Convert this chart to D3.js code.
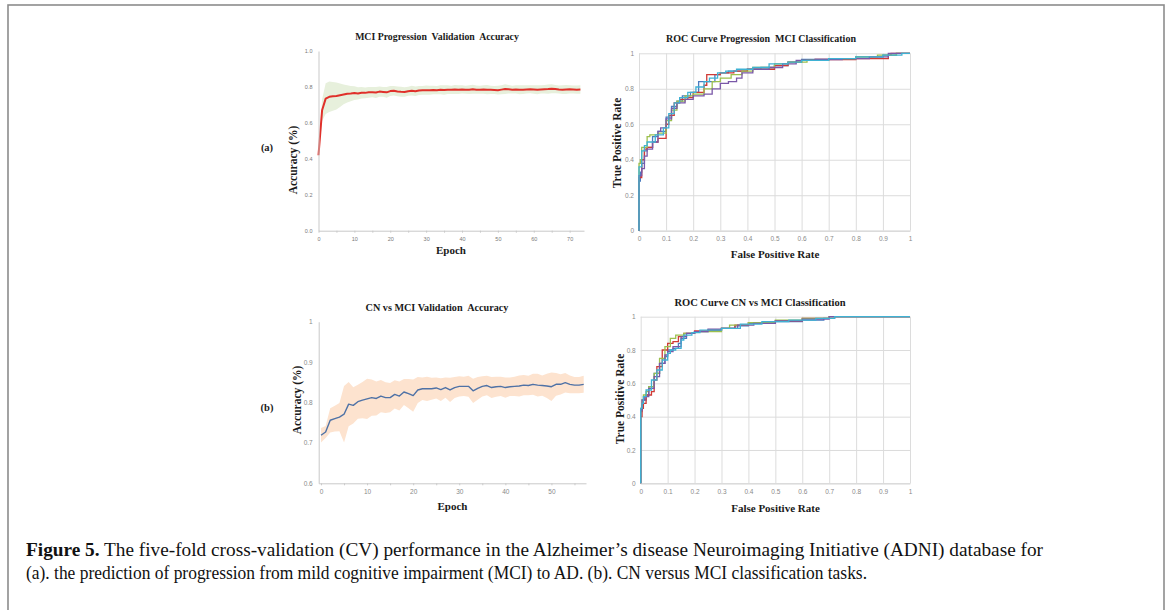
<!DOCTYPE html>
<html>
<head>
<meta charset="utf-8">
<script src="https://cdn.jsdelivr.net/npm/d3@7"></script>
<style>
  body { margin: 0; background: #fff; }
  svg { display: block; }
</style>
</head>
<body>
<svg id="fig" width="1170" height="610"></svg>
<script>
// (a) MCI progression validation accuracy, epochs 0..73
const meanA = [
  0.42, 0.67, 0.735, 0.745, 0.748, 0.750, 0.754, 0.758, 0.762, 0.763,
  0.766, 0.764, 0.768, 0.767, 0.770, 0.771, 0.769, 0.774, 0.772, 0.770,
  0.777, 0.779, 0.775, 0.773, 0.772, 0.776, 0.779, 0.776, 0.780, 0.781,
  0.782, 0.781, 0.783, 0.782, 0.784, 0.783, 0.785, 0.784, 0.786, 0.785,
  0.786, 0.784, 0.785, 0.787, 0.785, 0.784, 0.786, 0.785, 0.784, 0.783,
  0.782, 0.785, 0.788, 0.787, 0.785, 0.786, 0.784, 0.785, 0.786, 0.787,
  0.786, 0.785, 0.786, 0.787, 0.788, 0.790, 0.788, 0.786, 0.785, 0.786,
  0.787, 0.786, 0.785, 0.786
];
const stdA = [
  0.008, 0.06, 0.085, 0.085, 0.08, 0.075, 0.065, 0.055, 0.048, 0.042,
  0.038, 0.034, 0.032, 0.030, 0.030, 0.028, 0.030, 0.028, 0.027, 0.030,
  0.028, 0.026, 0.027, 0.028, 0.026, 0.025, 0.027, 0.026, 0.025, 0.024,
  0.026, 0.025, 0.024, 0.023, 0.025, 0.027, 0.024, 0.023, 0.025, 0.024,
  0.023, 0.022, 0.024, 0.025, 0.023, 0.022, 0.024, 0.026, 0.023, 0.022,
  0.024, 0.025, 0.027, 0.024, 0.022, 0.023, 0.025, 0.024, 0.023, 0.022,
  0.024, 0.025, 0.023, 0.024, 0.026, 0.025, 0.023, 0.022, 0.024, 0.025,
  0.023, 0.022, 0.023, 0.024
];

// (b) CN vs MCI validation accuracy, epochs 0..57
const meanB = [
  0.719, 0.727, 0.756, 0.760, 0.764, 0.771, 0.796, 0.793, 0.802, 0.806,
  0.809, 0.812, 0.810, 0.816, 0.812, 0.812, 0.820, 0.816, 0.826, 0.822,
  0.817, 0.831, 0.834, 0.834, 0.834, 0.836, 0.832, 0.837, 0.831, 0.837,
  0.840, 0.840, 0.840, 0.829, 0.835, 0.840, 0.842, 0.837, 0.839, 0.840,
  0.837, 0.839, 0.840, 0.841, 0.843, 0.842, 0.845, 0.843, 0.842, 0.841,
  0.839, 0.845, 0.845, 0.849, 0.845, 0.843, 0.843, 0.845
];
const stdB = [
  0.018, 0.015, 0.03, 0.032, 0.035, 0.07, 0.055, 0.045, 0.042, 0.045,
  0.05, 0.045, 0.042, 0.04, 0.038, 0.036, 0.035, 0.036, 0.032, 0.036,
  0.04, 0.032, 0.028, 0.03, 0.027, 0.026, 0.028, 0.025, 0.03, 0.026,
  0.025, 0.024, 0.026, 0.03, 0.028, 0.025, 0.024, 0.026, 0.025, 0.024,
  0.025, 0.023, 0.024, 0.026, 0.025, 0.024, 0.026, 0.028, 0.025, 0.03,
  0.035, 0.028, 0.025, 0.024, 0.022, 0.02, 0.02, 0.021
];

// ROC folds, [fpr, tpr]
const foldColors = ['#4a7cc0', '#d03a36', '#9cc04e', '#7a58a8', '#3fb2d4'];

const rocProgression = [
  [[0,0],[0,0.21],[0.005,0.28],[0.01,0.33],[0.02,0.38],[0.03,0.45],[0.05,0.47],[0.07,0.53],[0.1,0.56],[0.12,0.64],[0.14,0.7],[0.16,0.73],[0.19,0.76],[0.22,0.78],[0.25,0.84],[0.28,0.84],[0.3,0.88],[0.33,0.89],[0.4,0.9],[0.45,0.91],[0.5,0.92],[0.55,0.93],[0.6,0.95],[0.7,0.965],[0.8,0.97],[0.9,0.98],[0.95,0.99],[1,1]],
  [[0,0],[0,0.2],[0.01,0.3],[0.02,0.4],[0.03,0.46],[0.05,0.47],[0.07,0.5],[0.1,0.52],[0.11,0.6],[0.13,0.65],[0.15,0.72],[0.18,0.74],[0.2,0.75],[0.24,0.78],[0.25,0.82],[0.26,0.88],[0.3,0.88],[0.35,0.89],[0.4,0.9],[0.5,0.91],[0.55,0.93],[0.6,0.95],[0.65,0.96],[0.8,0.965],[0.92,0.97],[0.93,0.99],[1,1]],
  [[0,0],[0,0.25],[0.005,0.38],[0.01,0.4],[0.03,0.47],[0.04,0.53],[0.07,0.54],[0.1,0.55],[0.12,0.62],[0.14,0.68],[0.17,0.73],[0.2,0.76],[0.24,0.77],[0.27,0.8],[0.3,0.84],[0.34,0.86],[0.38,0.88],[0.42,0.9],[0.5,0.92],[0.55,0.94],[0.62,0.95],[0.7,0.96],[0.8,0.97],[0.88,0.98],[0.95,0.99],[1,1]],
  [[0,0],[0,0.2],[0.01,0.31],[0.02,0.35],[0.03,0.42],[0.05,0.46],[0.07,0.5],[0.08,0.56],[0.1,0.58],[0.12,0.63],[0.14,0.69],[0.17,0.72],[0.2,0.74],[0.24,0.76],[0.27,0.77],[0.3,0.8],[0.33,0.83],[0.36,0.84],[0.38,0.86],[0.42,0.89],[0.48,0.91],[0.53,0.92],[0.58,0.94],[0.65,0.96],[0.75,0.965],[0.85,0.97],[0.92,0.98],[1,1]],
  [[0,0],[0,0.22],[0.01,0.36],[0.02,0.45],[0.03,0.48],[0.06,0.5],[0.09,0.54],[0.11,0.58],[0.13,0.66],[0.15,0.72],[0.18,0.75],[0.21,0.78],[0.24,0.81],[0.26,0.84],[0.29,0.86],[0.32,0.89],[0.36,0.9],[0.42,0.91],[0.48,0.92],[0.55,0.94],[0.6,0.95],[0.7,0.96],[0.8,0.97],[0.9,0.98],[0.97,0.99],[1,1]]
];

const rocCnMci = [
  [[0,0],[0,0.35],[0.005,0.43],[0.01,0.47],[0.02,0.5],[0.03,0.53],[0.05,0.58],[0.07,0.66],[0.09,0.72],[0.1,0.76],[0.12,0.8],[0.14,0.81],[0.15,0.84],[0.17,0.87],[0.2,0.9],[0.25,0.91],[0.3,0.92],[0.35,0.93],[0.4,0.945],[0.5,0.96],[0.6,0.97],[0.68,0.98],[0.72,0.99],[0.78,1],[1,1]],
  [[0,0],[0,0.26],[0.005,0.4],[0.01,0.45],[0.02,0.48],[0.04,0.53],[0.05,0.55],[0.06,0.62],[0.08,0.7],[0.1,0.8],[0.12,0.84],[0.14,0.85],[0.16,0.88],[0.2,0.9],[0.25,0.915],[0.3,0.92],[0.35,0.93],[0.4,0.95],[0.5,0.965],[0.6,0.975],[0.7,0.99],[0.76,1],[1,1]],
  [[0,0],[0,0.3],[0.005,0.45],[0.01,0.5],[0.02,0.53],[0.03,0.55],[0.05,0.58],[0.07,0.66],[0.09,0.75],[0.11,0.82],[0.13,0.87],[0.16,0.89],[0.2,0.9],[0.25,0.91],[0.3,0.91],[0.33,0.93],[0.4,0.95],[0.5,0.965],[0.6,0.98],[0.7,0.99],[0.75,1],[1,1]],
  [[0,0],[0,0.38],[0.005,0.44],[0.015,0.5],[0.03,0.52],[0.05,0.57],[0.07,0.64],[0.09,0.72],[0.1,0.77],[0.12,0.79],[0.15,0.82],[0.17,0.88],[0.2,0.9],[0.25,0.91],[0.3,0.925],[0.36,0.93],[0.42,0.95],[0.5,0.96],[0.6,0.975],[0.7,0.985],[0.77,1],[1,1]],
  [[0,0],[0,0.34],[0.005,0.45],[0.01,0.48],[0.02,0.52],[0.04,0.56],[0.06,0.62],[0.08,0.68],[0.1,0.74],[0.11,0.78],[0.13,0.8],[0.15,0.81],[0.16,0.86],[0.19,0.89],[0.22,0.905],[0.3,0.92],[0.37,0.93],[0.45,0.955],[0.55,0.97],[0.65,0.98],[0.72,0.99],[0.78,1],[1,1]]
];

const rocTicksX = d3.range(0, 11).map(i => i / 10);
const rocTicksY = [0, 0.2, 0.4, 0.6, 0.8, 1];

const captionLines = [
  ['Figure 5.', ' The five-fold cross-validation (CV) performance in the Alzheimer\u2019s disease Neuroimaging Initiative (ADNI) database for'],
  ['', '(a). the prediction of progression from mild cognitive impairment (MCI) to AD. (b). CN versus MCI classification tasks.']
];

const serif = '"Liberation Serif", "Times New Roman", serif';
const sans = '"Liberation Sans", Arial, sans-serif';

const svg = d3.select('#fig');

// page frame
svg.append('rect')
  .attr('x', 8).attr('y', 5)
  .attr('width', 1156).attr('height', 640)
  .attr('fill', 'none')
  .attr('stroke', '#8c8c8c')
  .attr('stroke-width', 1.6);

function label(g, text, x, y, size, opts = {}) {
  const t = g.append('text')
    .attr('x', x).attr('y', y)
    .attr('text-anchor', opts.anchor || 'middle')
    .attr('font-family', serif)
    .attr('font-weight', 'bold')
    .attr('font-size', size)
    .attr('fill', '#1a1a1a')
    .style('white-space', 'pre')
    .text(text);
  if (opts.rotate) {
    t.attr('x', 0).attr('y', 0)
      .attr('transform', `translate(${x},${y}) rotate(-90)`);
  }
  return t;
}

function styleAxis(sel, color, fontSize) {
  sel.select('.domain').attr('stroke', '#c9c9c9');
  sel.selectAll('.tick line').attr('stroke', '#c9c9c9');
  sel.selectAll('.tick text')
    .attr('fill', color)
    .attr('font-family', sans)
    .attr('font-size', fontSize);
}

function drawAccuracy(o) {
  const x = d3.scaleLinear().domain(o.xDomain).range([o.box.left, o.box.right]);
  const y = d3.scaleLinear().domain(o.yDomain).range([o.box.bottom, o.box.top]);
  const g = svg.append('g');

  // std band
  const area = d3.area()
    .x((d, i) => x(i))
    .y0((d, i) => y(d - o.std[i]))
    .y1((d, i) => y(d + o.std[i]));
  g.append('path').datum(o.mean)
    .attr('d', area)
    .attr('fill', o.bandColor);

  const line = d3.line()
    .x((d, i) => x(i))
    .y(d => y(d));
  g.append('path').datum(o.mean)
    .attr('d', line)
    .attr('fill', 'none')
    .attr('stroke', o.lineColor)
    .attr('stroke-width', o.lineWidth)
    .attr('stroke-linejoin', 'round');

  const xAxis = g.append('g')
    .attr('transform', `translate(0,${o.box.bottom})`)
    .call(d3.axisBottom(x)
      .tickValues(o.xTicks)
      .tickSize(2)
      .tickSizeOuter(0)
      .tickPadding(4)
      .tickFormat(d => d % 10 === 0 ? d : ''));
  styleAxis(xAxis, o.tickColor, o.tickSize);

  const yAxis = g.append('g')
    .attr('transform', `translate(${o.box.left},0)`)
    .call(d3.axisLeft(y)
      .tickValues(o.yTicks)
      .tickSize(0)
      .tickSizeOuter(0)
      .tickPadding(o.yPad)
      .tickFormat(o.yFmt));
  styleAxis(yAxis, o.tickColor, o.tickSize);

  label(g, o.title, o.titlePos[0], o.titlePos[1], o.titleSize);
  label(g, 'Epoch', o.xLabelPos[0], o.xLabelPos[1], 11);
  label(g, 'Accuracy (%)', o.yLabelPos[0], o.yLabelPos[1], 11.5, { rotate: true });
  label(g, o.tag, o.tagPos[0], o.tagPos[1], 10.5);
}

function drawRoc(o) {
  const x = d3.scaleLinear().domain([0, 1]).range([o.box.left, o.box.right]);
  const y = d3.scaleLinear().domain([0, 1]).range([o.box.bottom, o.box.top]);
  const g = svg.append('g');
  const fmt = d3.format('.1~f');

  // vertical grid + x labels
  const xAxis = g.append('g')
    .attr('transform', `translate(0,${o.box.bottom})`)
    .call(d3.axisBottom(x)
      .tickValues(rocTicksX)
      .tickSize(-(o.box.bottom - o.box.top))
      .tickSizeOuter(0)
      .tickPadding(6)
      .tickFormat(fmt));
  styleAxis(xAxis, '#8a8a8a', 6.5);
  xAxis.selectAll('.tick line').attr('stroke', '#dcdcdc');

  // horizontal grid + y labels
  const yAxis = g.append('g')
    .attr('transform', `translate(${o.box.left},0)`)
    .call(d3.axisLeft(y)
      .tickValues(rocTicksY)
      .tickSize(-(o.box.right - o.box.left))
      .tickSizeOuter(0)
      .tickPadding(5)
      .tickFormat(fmt));
  styleAxis(yAxis, '#8a8a8a', 6.5);
  yAxis.selectAll('.tick line').attr('stroke', '#dcdcdc');
  yAxis.select('.domain').remove();

  const line = d3.line()
    .x(d => x(d[0]))
    .y(d => y(d[1]))
    .curve(d3.curveStepBefore);

  g.selectAll('.fold')
    .data(o.folds)
    .enter()
    .append('path')
    .attr('class', 'fold')
    .attr('d', line)
    .attr('fill', 'none')
    .attr('stroke', (d, i) => foldColors[i])
    .attr('stroke-width', 1.3);

  label(g, o.title, o.titlePos[0], o.titlePos[1], o.titleSize);
  label(g, 'False Positive Rate', o.xLabelPos[0], o.xLabelPos[1], 11);
  label(g, 'True Positive Rate', o.yLabelPos[0], o.yLabelPos[1], 11.5, { rotate: true });
}

drawAccuracy({
  box: { left: 318.5, right: 584, top: 51, bottom: 230.7 },
  xDomain: [0, 74],
  yDomain: [0, 1],
  mean: meanA,
  std: stdA,
  lineColor: '#e0302a',
  lineWidth: 2,
  bandColor: '#e7f0dc',
  xTicks: d3.range(0, 75, 5),
  yTicks: [0, 0.2, 0.4, 0.6, 0.8, 1],
  yFmt: d3.format('.1f'),
  yPad: 6,
  tickColor: '#7a7a7a',
  tickSize: 5.5,
  title: 'MCI Progression  Validation  Accuracy',
  titleSize: 9.8,
  titlePos: [437, 39.5],
  xLabelPos: [451, 254],
  yLabelPos: [297, 160],
  tag: '(a)',
  tagPos: [267, 151]
});

drawAccuracy({
  box: { left: 318.7, right: 586, top: 321.7, bottom: 483.3 },
  xDomain: [-0.5, 57.5],
  yDomain: [0.6, 1],
  mean: meanB,
  std: stdB,
  lineColor: '#4f72a6',
  lineWidth: 1.4,
  bandColor: '#fde3cf',
  xTicks: d3.range(0, 58, 5),
  yTicks: [0.6, 0.7, 0.8, 0.9, 1],
  yFmt: d3.format('.1~f'),
  yPad: 6,
  tickColor: '#8a8a8a',
  tickSize: 6.5,
  title: 'CN vs MCI Validation  Accuracy',
  titleSize: 10.2,
  titlePos: [437, 310.5],
  xLabelPos: [452.5, 510],
  yLabelPos: [301, 400],
  tag: '(b)',
  tagPos: [267, 410.5]
});

drawRoc({
  box: { left: 639, right: 910, top: 53.3, bottom: 230.7 },
  folds: rocProgression,
  title: 'ROC Curve Progression  MCI Classification',
  titleSize: 10,
  titlePos: [761, 42],
  xLabelPos: [775, 258],
  yLabelPos: [620.5, 143]
});

drawRoc({
  box: { left: 640.7, right: 910, top: 316.7, bottom: 483.3 },
  folds: rocCnMci,
  title: 'ROC Curve CN vs MCI Classification',
  titleSize: 10.5,
  titlePos: [760, 305.5],
  xLabelPos: [775.5, 512],
  yLabelPos: [623.5, 399]
});

// caption
const cap = svg.append('g')
  .attr('font-family', serif)
  .attr('font-size', 18.5)
  .attr('fill', '#111');
const capWidths = [1017, 841];
captionLines.forEach((parts, i) => {
  const t = cap.append('text')
    .attr('x', 26)
    .attr('y', 555.5 + i * 23)
    .attr('textLength', capWidths[i])
    .attr('lengthAdjust', 'spacingAndGlyphs');
  if (parts[0]) t.append('tspan').attr('font-weight', 'bold').text(parts[0]);
  t.append('tspan').text(parts[1]);
});
</script>
</body>
</html>
